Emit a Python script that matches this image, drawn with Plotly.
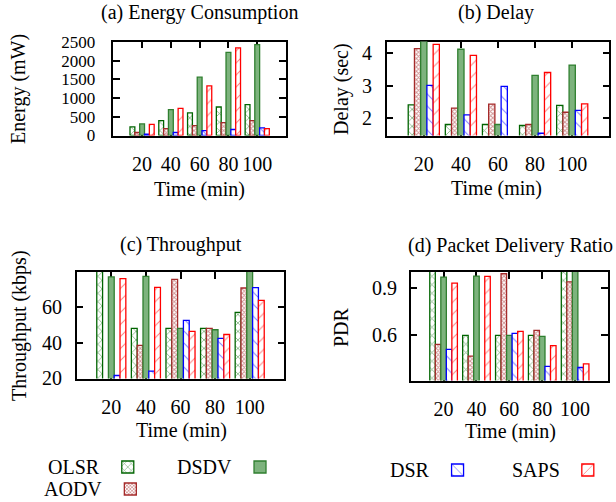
import plotly.graph_objects as go

# ---------------- data ----------------
times = ["20", "40", "60", "80", "100"]
series = ["OLSR", "AODV", "DSDV", "DSR", "SAPS"]

energy_olsr = [230, 400, 603, 763, 825]
energy_aodv = [80, 186, 266, 346, 400]
energy_dsdv = [310, 690, 1561, 2226, 2430]
energy_dsr = [35, 80, 133, 160, 204]
energy_saps = [300, 727, 1330, 2342, 186]

delay_olsr = [2.41, 1.80, 1.80, 1.77, 2.39]
delay_aodv = [4.15, 2.31, 2.43, 1.80, 2.18]
delay_dsdv = [4.5, 4.13, 1.80, 3.32, 3.64]
delay_dsr = [3.01, 2.10, 2.98, 1.53, 2.24]
delay_saps = [4.28, 3.94, 1.40, 3.41, 2.44]

thr_olsr = [85, 48.1, 48.1, 48.1, 57.2]
thr_aodv = [18, 38.4, 75.9, 48.1, 71.0]
thr_dsdv = [77.3, 77.6, 48.1, 47.3, 82]
thr_dsr = [21.3, 23.8, 52.6, 42.4, 71.2]
thr_saps = [76.3, 71.4, 46.4, 44.6, 64.0]

pdr_olsr = [1.02, 0.60, 0.60, 0.60, 1.02]
pdr_aodv = [0.543, 0.469, 0.989, 0.632, 0.938]
pdr_dsdv = [0.968, 0.974, 0.60, 0.594, 1.02]
pdr_dsr = [0.511, 0.30, 0.613, 0.404, 0.397]
pdr_saps = [0.930, 0.972, 0.625, 0.535, 0.420]

panels = [
    [energy_olsr, energy_aodv, energy_dsdv, energy_dsr, energy_saps],
    [delay_olsr, delay_aodv, delay_dsdv, delay_dsr, delay_saps],
    [thr_olsr, thr_aodv, thr_dsdv, thr_dsr, thr_saps],
    [pdr_olsr, pdr_aodv, pdr_dsdv, pdr_dsr, pdr_saps],
]

# ---------------- styles ----------------
FONT = "Liberation Serif"
FS = 20
W, H = 616, 502

styles = {
    "OLSR": dict(color="white", line="#006400",
                 pattern=dict(shape="x", fgcolor="#006400", bgcolor="white", size=6, solidity=0.25, fillmode="overlay")),
    "AODV": dict(color="white", line="#a52a2a",
                 pattern=dict(shape="x", fgcolor="#a52a2a", bgcolor="white", size=3, solidity=0.55, fillmode="overlay")),
    "DSDV": dict(color="#7db37d", line="#2f7f2f", pattern=None),
    "DSR": dict(color="white", line="#0000ff",
                pattern=dict(shape="\\", fgcolor="#0000ff", bgcolor="white", size=8.5, solidity=0.12, fillmode="overlay")),
    "SAPS": dict(color="white", line="#ff0000",
                 pattern=dict(shape="/", fgcolor="#ff0000", bgcolor="white", size=8.5, solidity=0.12, fillmode="overlay")),
}
legend_ids = {"OLSR": "legend", "DSDV": "legend2", "AODV": "legend3", "DSR": "legend4", "SAPS": "legend5"}

fig = go.Figure()
for p, vals in enumerate(panels):
    ax = "" if p == 0 else str(p + 1)
    for s, name in enumerate(series):
        st = styles[name]
        marker = dict(color=st["color"], line=dict(color=st["line"], width=1.3))
        if st["pattern"] is not None:
            marker["pattern"] = st["pattern"]
        fig.add_trace(go.Bar(
            x=times, y=vals[s], name=" " if p == 0 else name,
            marker=marker, xaxis="x" + ax, yaxis="y" + ax,
            showlegend=(p == 0), legend=legend_ids[name], legendgroup=name,
        ))

def px_x(v):
    return v / W

def px_y(v):
    return 1 - v / H

domains = [
    ((113.3, 286.0), (41.5, 135.5)),
    ((386.7, 609.3), (41.5, 135.5)),
    ((76.7, 284.3), (272.0, 378.5)),
    ((410.7, 608.0), (272.0, 380.5)),
]
yranges = [[0, 2515], [1.46, 4.37], [19.6, 80.1], [0.315, 1.0]]
ytickvals = [[0, 500, 1000, 1500, 2000, 2500], [2, 3, 4], [20, 40, 60], [0.6, 0.9]]
yticktext = [["0", "500", "1000", "1500", "2000", "2500"], ["2", "3", "4"], ["20", "40", "60"], ["0.6", "0.9"]]
ystandoff = [13, 9, 9, 8]
ytickfs = [17, FS, FS, FS]

axis_common = dict(showline=True, linecolor="black", linewidth=1.5, mirror="ticks",
                   ticks="inside", ticklen=7, tickwidth=1.5, tickcolor="black",
                   showgrid=False, zeroline=False, layer="below traces",
                   tickfont=dict(family=FONT, size=FS, color="black"))

layout = dict(width=W, height=H, margin=dict(l=0, r=0, t=0, b=0, autoexpand=False),
              paper_bgcolor="white", plot_bgcolor="white",
              barmode="group", bargap=0.16, bargroupgap=0,
              font=dict(family=FONT, size=FS, color="black"))

for p in range(4):
    ax = "" if p == 0 else str(p + 1)
    (x0, x1), (y0, y1) = domains[p]
    layout["xaxis" + ax] = dict(axis_common, domain=[px_x(x0), px_x(x1)], anchor="y" + ax,
                                type="category", categoryorder="array", categoryarray=times,
                                range=[-1, 5], ticklabelstandoff=10, automargin=False)
    layout["yaxis" + ax] = dict(axis_common, domain=[px_y(y1), px_y(y0)], anchor="x" + ax,
                                range=yranges[p], tickvals=ytickvals[p], ticktext=yticktext[p],
                                ticklabelstandoff=ystandoff[p], automargin=False,
                                tickfont=dict(family=FONT, size=ytickfs[p], color="black"))

# legends: label text on the left, sample on the right (as in the original key)
leg_pos = {"legend": (46, 467), "legend2": (175, 467), "legend3": (42, 489),
           "legend4": (388, 470), "legend5": (510, 470)}
for lid, name in [("legend", "OLSR"), ("legend2", "DSDV"), ("legend3", "AODV"), ("legend4", "DSR"), ("legend5", "SAPS")]:
    lx, ly = leg_pos[lid]
    layout[lid] = dict(x=px_x(lx), y=px_y(ly), xanchor="left", yanchor="middle",
                       bgcolor="rgba(0,0,0,0)", borderwidth=0,
                       title=dict(text=name, side="left", font=dict(family=FONT, size=FS)),
                       font=dict(family=FONT, size=FS), itemclick=False, itemdoubleclick=False)

fig.update_layout(**layout)

annotations = [
    ("(a) Energy Consumption", 199, 13, 0),
    ("(b) Delay", 496, 13, 0),
    ("(c) Throughput", 181, 244, 0),
    ("(d) Packet Delivery Ratio", 510, 245, 0),
    ("Time (min)", 199, 189, 0),
    ("Time (min)", 497, 188, 0),
    ("Time (min)", 181, 430, 0),
    ("Time (min)", 510, 431, 0),
    ("Energy (mW)", 18, 89, -90),
    ("Delay (sec)", 341, 89, -90),
    ("Throughput (kbps)", 19, 326, -90),
    ("PDR", 341, 327, -90),
]
for text, ax_, ay_, ang in annotations:
    fig.add_annotation(text=text, x=px_x(ax_), y=px_y(ay_), xref="paper", yref="paper",
                       xanchor="center", yanchor="middle", showarrow=False, textangle=ang,
                       font=dict(family=FONT, size=FS, color="black"))

fig.write_html("out.html", config={"displayModeBar": False},
               post_script="document.body.style.margin='0';document.body.style.overflow='hidden';")
